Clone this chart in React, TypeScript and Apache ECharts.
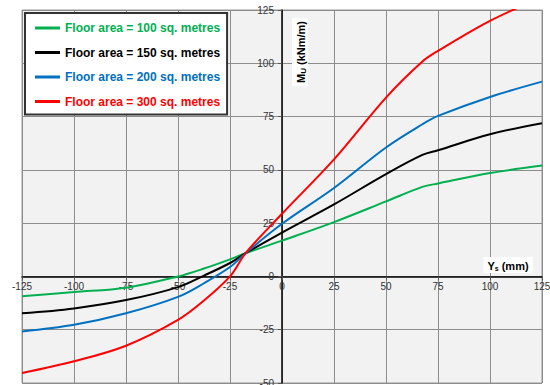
import React, { useEffect, useRef } from "react";
import * as echarts from "echarts";

const xValues = [-125, -100, -75, -50, -37.5, -25, -17.5, 0, 25, 50, 67.5, 75, 100, 125];
const area100 = [-9.3, -7.3, -5.3, 0, 3.7, 8, 10.9, 16.8, 25.5, 35.2, 42, 43.6, 48.5, 52];
const area150 = [-17.3, -15, -11.1, -5, 0.4, 6.3, 10.9, 20.6, 33.8, 48, 57, 59.2, 66.7, 71.9];
const area200 = [-25.8, -22.7, -17.3, -9.6, -3.2, 4.4, 10.9, 24.7, 41.5, 60.5, 71.4, 75.3, 84.2, 91.4];
const area300 = [-45.3, -39.8, -32.5, -20.4, -11.3, 0, 10.9, 29.4, 54.9, 83.9, 100.8, 105.8, 119.9, 131];

const seriesNames = [
  "Floor area = 100 sq. metres",
  "Floor area = 150 sq. metres",
  "Floor area = 200 sq. metres",
  "Floor area = 300 sq. metres",
];
const seriesColors = ["#00b050", "#000000", "#0070c0", "#ff0000"];
const seriesValues = [area100, area150, area200, area300];

const FONT = "'Liberation Sans', Arial, sans-serif";

export default function App() {
  const ref = useRef<HTMLDivElement>(null);
  useEffect(() => {
    if (!ref.current) return;
    const chart = echarts.init(ref.current, null, { renderer: "svg" });
    chart.setOption({
      animation: false,
      backgroundColor: "#ffffff",
      grid: {
        left: 22,
        right: 8,
        top: 10,
        bottom: 2,
        outerBoundsMode: "none",
        show: true,
        backgroundColor: "#f2f2f2",
        borderColor: "#999999",
        borderWidth: 1,
      },
      legend: {
        left: 25,
        top: 13,
        orient: "vertical",
        icon: "rect",
        itemWidth: 25,
        itemHeight: 3,
        itemGap: 12.5,
        padding: [9, 7, 7, 10],
        backgroundColor: "#ffffff",
        borderColor: "#333333",
        borderWidth: 2,
        textStyle: { fontFamily: FONT, fontWeight: "bold", fontSize: 12 },
        data: seriesNames.map((n, i) => ({
          name: n,
          textStyle: { color: seriesColors[i] },
        })),
      },
      xAxis: {
        type: "value",
        min: -125,
        max: 125,
        interval: 25,
        position: "bottom",
        axisLine: { onZero: false, lineStyle: { color: "#000", width: 1.5 } },
        axisTick: { show: true, length: 4, lineStyle: { color: "#555" } },
        axisLabel: { color: "#333", fontFamily: FONT, fontSize: 10, margin: 5 },
        splitLine: { show: true, lineStyle: { color: "#8c8c8c", width: 1 } },
      },
      yAxis: {
        type: "value",
        min: -50,
        max: 125,
        interval: 25,
        position: "left",
        axisLine: { onZero: false, lineStyle: { color: "#000", width: 1.5 } },
        axisTick: { show: true, length: 4, lineStyle: { color: "#555" } },
        axisLabel: { color: "#333", fontFamily: FONT, fontSize: 10, margin: 8 },
        splitLine: { show: true, lineStyle: { color: "#8c8c8c", width: 1 } },
      },
      series: seriesNames.map((n, i) => ({
        name: n,
        type: "line",
        smooth: 0.35,
        symbol: "none",
        clip: true,
        color: seriesColors[i],
        lineStyle: { width: 2, color: seriesColors[i] },
        data: xValues.map((x, j) => [x, seriesValues[i][j]]),
      })),
      graphic: [
        {
          type: "text",
          x: 300,
          y: 52,
          rotation: Math.PI / 2,
          z: 100,
          style: {
            text: "{a|M}{b|U}{a| (kNm/m)}",
            align: "center",
            verticalAlign: "middle",
            backgroundColor: "#ffffff",
            padding: [2, 3, 1, 3],
            rich: {
              a: { fontFamily: FONT, fontWeight: "bold", fontSize: 11, fill: "#000", lineHeight: 13 },
              b: { fontFamily: FONT, fontWeight: "bold", fontSize: 8, fill: "#000", verticalAlign: "bottom", lineHeight: 13, padding: [4, 0, 0, 0] },
            },
          },
        },
        {
          type: "text",
          x: 508,
          y: 265,
          z: 100,
          style: {
            text: "{a|Y}{b|s}{a| (mm)}",
            align: "center",
            verticalAlign: "middle",
            backgroundColor: "#ffffff",
            padding: [2, 4, 1, 4],
            rich: {
              a: { fontFamily: FONT, fontWeight: "bold", fontSize: 11, fill: "#000", lineHeight: 13 },
              b: { fontFamily: FONT, fontWeight: "bold", fontSize: 7, fill: "#000", verticalAlign: "bottom", lineHeight: 13, padding: [4, 0, 0, 0] },
            },
          },
        },
      ],
    });
    // move both axes (line, ticks and labels) onto the zero crossing
    const zero = chart.convertToPixel({ gridIndex: 0 }, [0, 0]) as number[];
    const corner = chart.convertToPixel({ gridIndex: 0 }, [-125, -50]) as number[];
    chart.setOption({
      xAxis: { offset: -(corner[1] - zero[1]) },
      yAxis: { offset: -(zero[0] - corner[0]) },
    });
    return () => chart.dispose();
  }, []);
  return (
    <div
      ref={ref}
      style={{ position: "fixed", left: 0, top: 0, width: 550, height: 385 }}
    />
  );
}
